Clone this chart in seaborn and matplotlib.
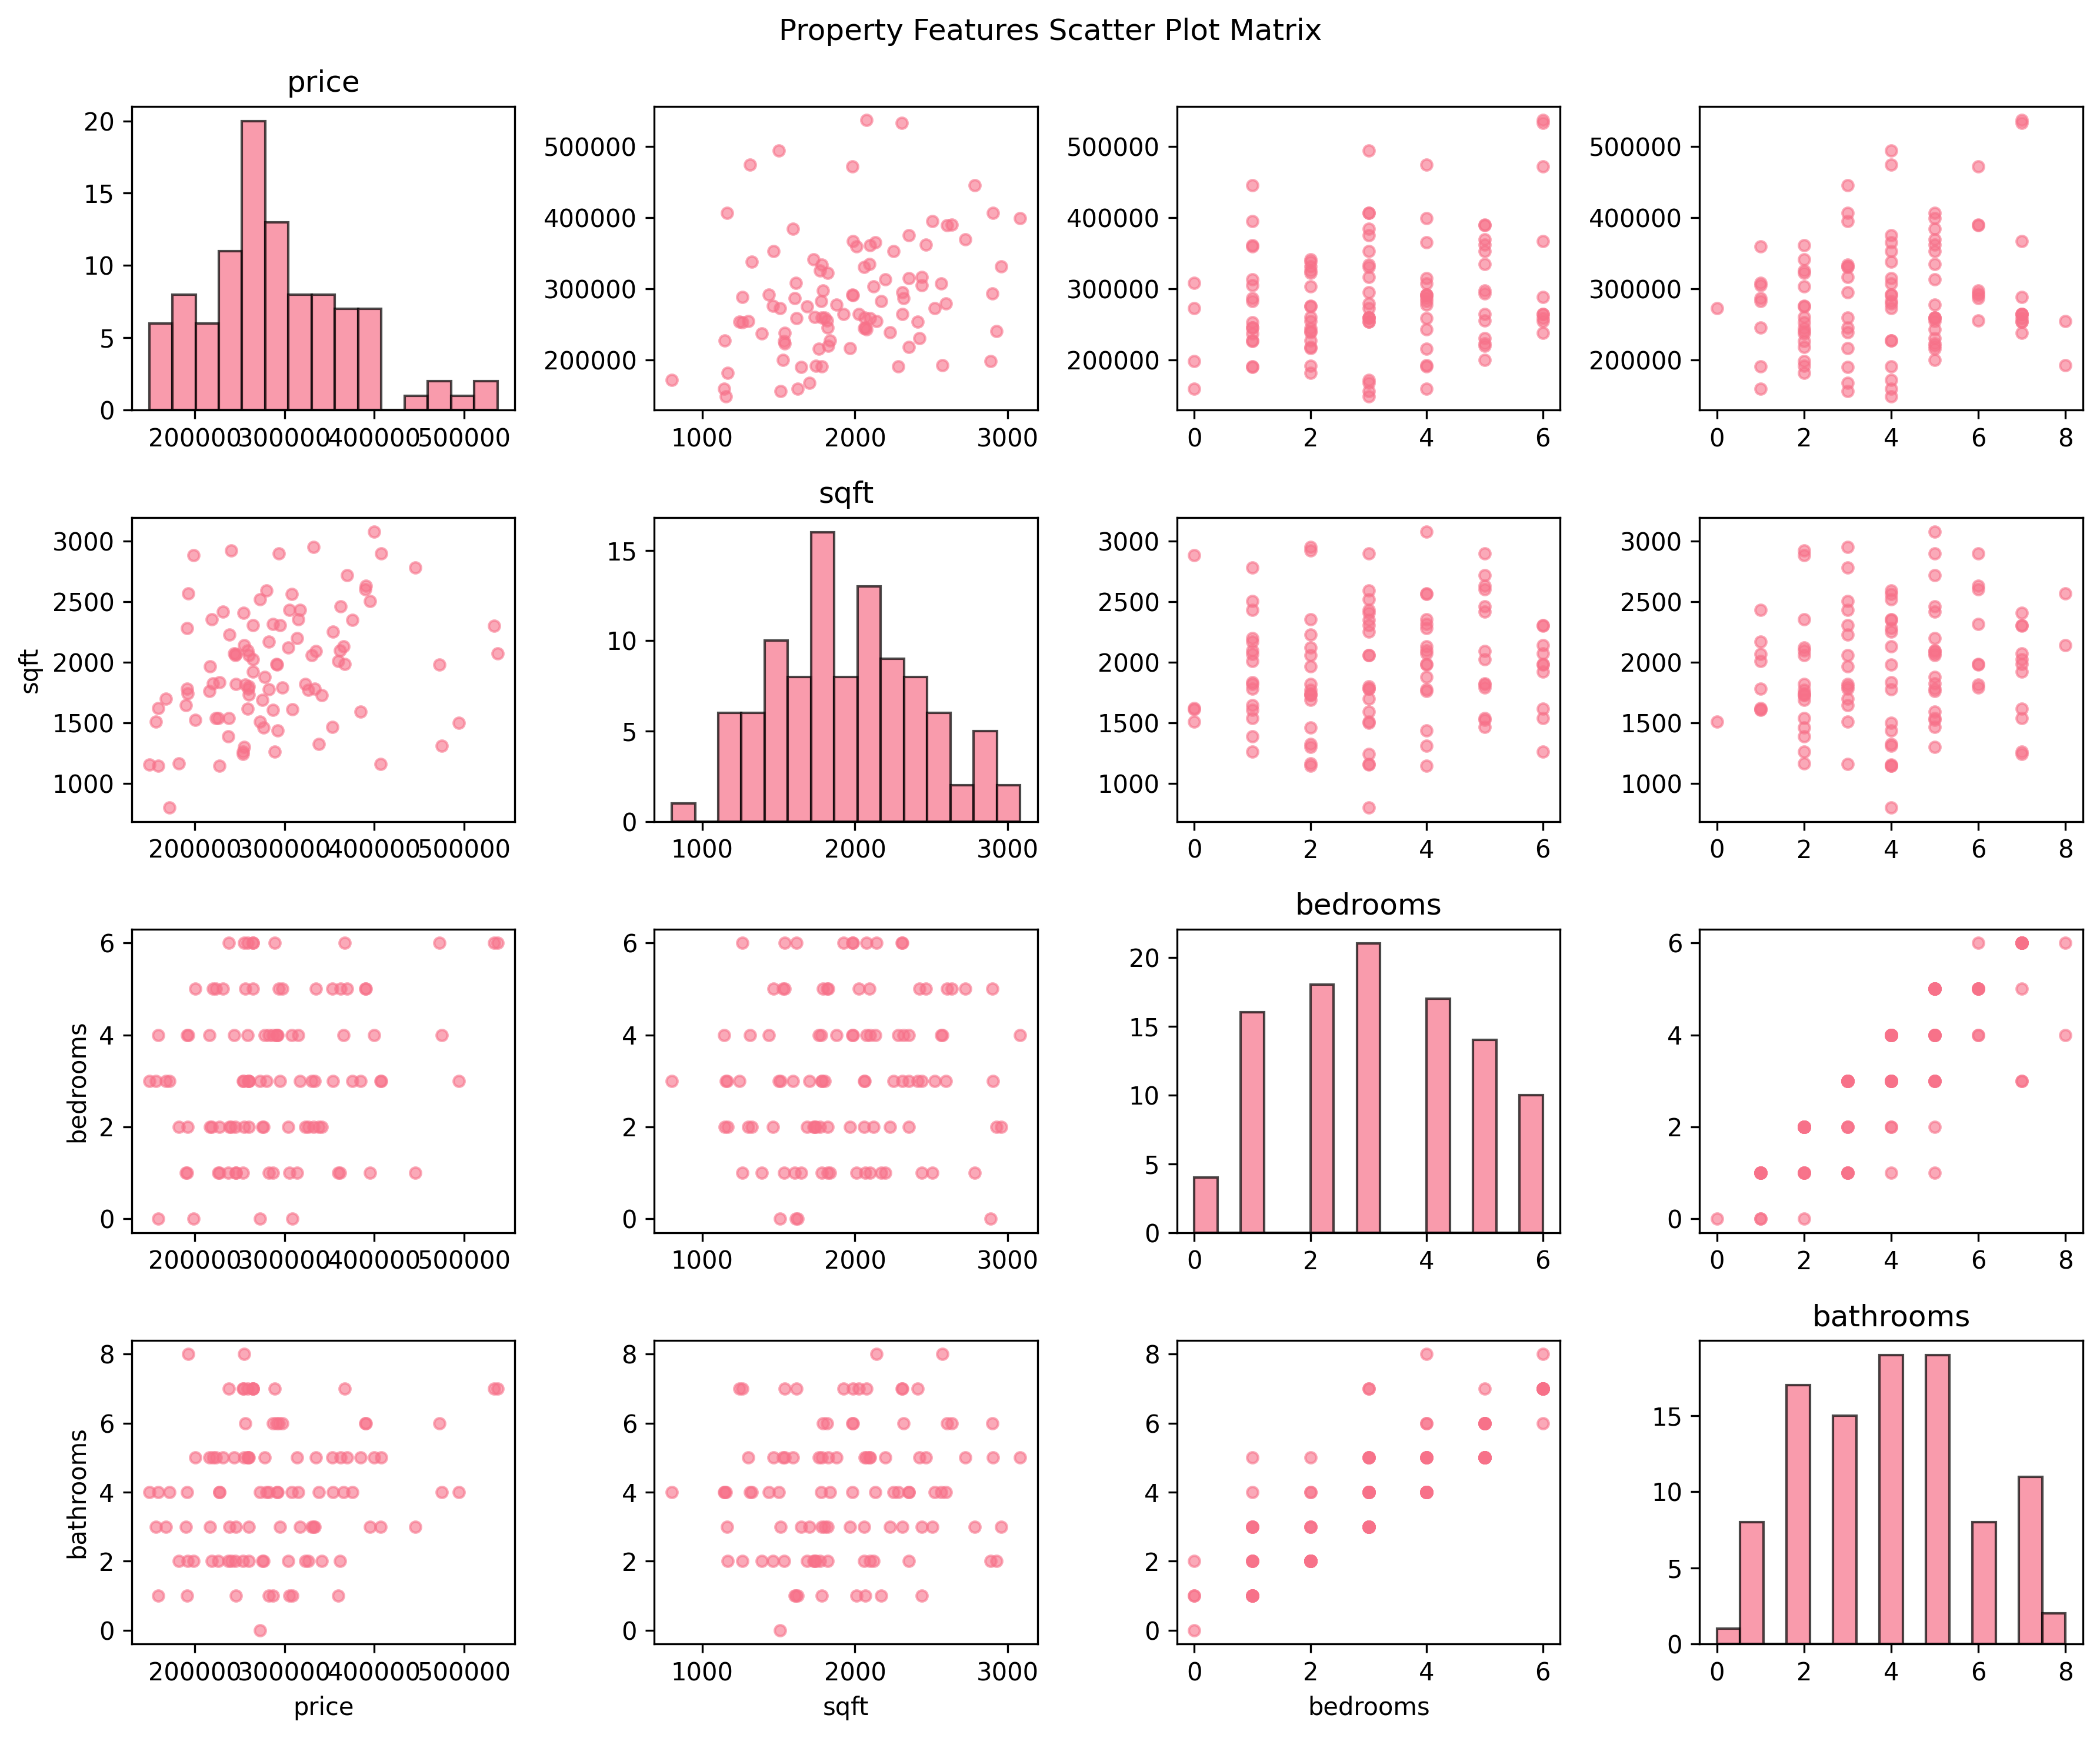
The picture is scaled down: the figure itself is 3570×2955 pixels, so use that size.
import pandas as pd
import seaborn as sns
import matplotlib
matplotlib.use("Agg")
import matplotlib.pyplot as plt

# values (100 properties)
price = [
    399700, 332000, 240400, 293800, 198300, 407300, 445700, 369600, 390300, 389700,
    279800, 193000, 307800, 272800, 395300, 362300, 305200, 317200, 231100, 254100,
    218700, 315200, 375300, 287100, 295200, 264800, 191300, 353600, 238700, 313900,
    282800, 255100, 303800, 365900, 361600, 334600, 330600, 243500, 246000, 245000,
    258800, 260100, 264800, 360000, 367000, 291300, 291800, 472500, 537200, 533200,
    216700, 265100, 278100, 227700, 220000, 245700, 256000, 260000, 259500, 260500,
    191300, 192000, 282800, 297500, 322900, 326200, 333900, 341600, 216000, 167600,
    275100, 159300, 190000, 259100, 287100, 308800, 384600, 156600, 200600, 223400,
    226400, 238100, 272800, 276500, 292200, 353300, 494200, 237400, 337900, 474800,
    255000, 253500, 253800, 288800, 149200, 159600, 182000, 227700, 407000, 172000,
]
sqft = [
    3081, 2955, 2926, 2898, 2886, 2902, 2784, 2722, 2635, 2602,
    2595, 2570, 2563, 2521, 2508, 2464, 2436, 2436, 2420, 2411,
    2354, 2354, 2352, 2316, 2309, 2309, 2282, 2254, 2231, 2199,
    2170, 2142, 2121, 2133, 2100, 2095, 2061, 2075, 2068, 2058,
    2100, 2062, 2025, 2010, 1985, 1988, 1982, 1981, 2076, 2305,
    1966, 1926, 1879, 1835, 1826, 1820, 1816, 1801, 1782, 1735,
    1782, 1744, 1778, 1792, 1820, 1773, 1782, 1729, 1763, 1701,
    1688, 1623, 1648, 1617, 1606, 1614, 1593, 1513, 1527, 1540,
    1538, 1541, 1511, 1464, 1437, 1466, 1500, 1390, 1324, 1313,
    1303, 1261, 1242, 1261, 1155, 1144, 1167, 1148, 1163, 801,
]
bedrooms = [
    4, 2, 2, 5, 0, 3, 1, 5, 5, 5,
    3, 4, 4, 3, 1, 5, 1, 3, 5, 3,
    2, 4, 3, 4, 3, 6, 4, 3, 2, 1,
    1, 6, 2, 4, 1, 5, 3, 4, 1, 2,
    4, 3, 5, 1, 6, 4, 4, 6, 6, 6,
    2, 6, 4, 1, 5, 1, 5, 3, 3, 2,
    1, 2, 4, 5, 2, 2, 3, 2, 4, 3,
    2, 0, 1, 6, 1, 0, 3, 3, 5, 5,
    1, 6, 0, 2, 4, 5, 3, 1, 2, 4,
    2, 1, 3, 6, 3, 4, 2, 2, 3, 3,
]
bathrooms = [
    5, 3, 2, 6, 2, 5, 3, 5, 6, 6,
    4, 8, 4, 4, 3, 5, 1, 3, 5, 7,
    2, 4, 4, 6, 3, 7, 4, 4, 3, 5,
    1, 8, 2, 4, 2, 5, 3, 5, 1, 2,
    5, 5, 7, 1, 7, 6, 4, 6, 7, 7,
    3, 7, 5, 4, 5, 3, 6, 3, 5, 2,
    1, 2, 4, 6, 2, 2, 3, 2, 5, 3,
    2, 1, 3, 7, 1, 1, 5, 3, 5, 5,
    2, 7, 0, 2, 4, 5, 4, 2, 4, 4,
    5, 2, 7, 7, 4, 4, 2, 4, 3, 4,
]

df = pd.DataFrame({
    'price': price,
    'sqft': sqft,
    'bedrooms': bedrooms,
    'bathrooms': bathrooms,
})
features = ['price', 'sqft', 'bedrooms', 'bathrooms']

color = sns.color_palette("husl", 8)[0]

fig, axes = plt.subplots(4, 4, figsize=(12, 10))
fig.suptitle('Property Features Scatter Plot Matrix', fontsize=12)

for i, row_var in enumerate(features):
    for j, col_var in enumerate(features):
        ax = axes[i, j]
        if i == j:
            # diagonal: histogram of the feature
            sns.histplot(x=df[col_var], bins=15, ax=ax, color=color,
                         alpha=0.7, edgecolor=(0, 0, 0, 0.7), linewidth=1)
            ax.set_title(col_var, fontsize=12)
        else:
            sns.scatterplot(x=df[col_var], y=df[row_var], ax=ax, color=color,
                            alpha=0.6, s=20, edgecolor=color, linewidth=1)
        ax.set_xlabel('')
        ax.set_ylabel('')
        if i == len(features) - 1 and j < len(features) - 1:
            ax.set_xlabel(col_var)
        if j == 0 and i > 0:
            ax.set_ylabel(row_var)

plt.tight_layout()
plt.savefig('out.png', dpi=300, bbox_inches='tight')
